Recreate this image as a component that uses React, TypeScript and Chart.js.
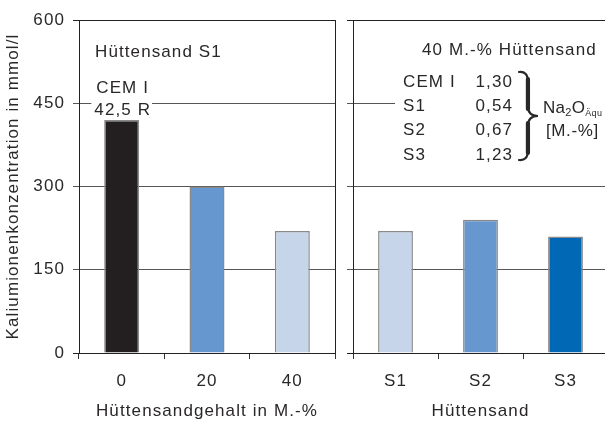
import React, { useEffect, useRef } from "react";
import { Chart, registerables } from "chart.js";

Chart.register(...registerables);

// Potassium ion concentration (mmol/l) of the pore solution
const yTicks = [0, 150, 300, 450, 600];

const contentCategories = ["0", "20", "40"];
const contentValues = [420, 300, 220];
const contentColors = ["#231f20", "#6797cf", "#c6d5ea"];

const slagCategories = ["S1", "S2", "S3"];
const slagValues = [220, 240, 210];
const slagColors = ["#c6d5ea", "#6797cf", "#0068b4"];

// Na2O equivalent of the binders in M.-%
const binderNames = ["CEM I", "S1", "S2", "S3"];
const binderAlkali = ["1,30", "0,54", "0,67", "1,23"];

const FAMILY = '"Liberation Sans", Arial, Helvetica, sans-serif';
const TEXT = "#2a2728";
const font = { family: FAMILY, size: 17, weight: "normal" as const, lineHeight: 1.2 };
const titleFont = { family: FAMILY, size: 17, weight: "normal" as const, lineHeight: 1.1 };
const FONT_CSS = `17px ${FAMILY}`;
const SPACING = "1.1px";

const spacingPlugin = {
  id: "letterSpacing",
  beforeUpdate(chart: any) {
    chart.ctx.letterSpacing = SPACING;
  },
  beforeDraw(chart: any) {
    chart.ctx.letterSpacing = SPACING;
  },
};

// closes the plot frame on the right-hand side
const framePlugin = {
  id: "frame",
  afterDraw(chart: any) {
    const { ctx, chartArea: a } = chart;
    const x = Math.round(a.right) + 0.5;
    ctx.save();
    ctx.strokeStyle = "#222";
    ctx.lineWidth = 1;
    ctx.beginPath();
    ctx.moveTo(x, a.top);
    ctx.lineTo(x, a.bottom);
    ctx.stroke();
    ctx.restore();
  },
};

const leftNotes = {
  id: "leftNotes",
  afterDatasetsDraw(chart: any) {
    const { ctx, chartArea: a, scales } = chart;
    const cx = scales.x.getPixelForValue(0);
    ctx.save();
    ctx.font = FONT_CSS;
    ctx.textBaseline = "middle";
    ctx.fillStyle = TEXT;
    ctx.textAlign = "left";
    ctx.fillText("Hüttensand S1", a.left + 16, a.top + 32);
    ctx.textAlign = "center";
    ctx.fillText("CEM I", cx + 1, a.top + 68);
    const w = ctx.measureText("42,5 R").width;
    ctx.fillStyle = "#fff";
    ctx.fillRect(cx - w / 2 - 2, a.top + 81, w + 4, 17);
    ctx.fillStyle = TEXT;
    ctx.fillText("42,5 R", cx + 1, a.top + 90);
    ctx.restore();
  },
};

// curly brace opening to the left, tip pointing right
function drawBrace(ctx: CanvasRenderingContext2D, x: number, top: number, bottom: number, w: number) {
  const mid = (top + bottom) / 2;
  const xm = x + w * 0.47;
  const r = 10;
  ctx.beginPath();
  ctx.moveTo(x, top);
  ctx.quadraticCurveTo(xm, top - 1, xm, top + r);
  ctx.lineTo(xm, mid - r);
  ctx.quadraticCurveTo(xm, mid, x + w, mid);
  ctx.quadraticCurveTo(xm, mid, xm, mid + r);
  ctx.lineTo(xm, bottom - r);
  ctx.quadraticCurveTo(xm, bottom + 1, x, bottom);
  ctx.lineWidth = 2.2;
  ctx.stroke();
  ctx.beginPath();
  ctx.moveTo(xm, top + r - 3);
  ctx.lineTo(xm, mid - r + 3);
  ctx.moveTo(xm, mid + r - 3);
  ctx.lineTo(xm, bottom - r + 3);
  ctx.lineWidth = 4.2;
  ctx.stroke();
}

const rightNotes = {
  id: "rightNotes",
  afterDatasetsDraw(chart: any) {
    const { ctx, chartArea: a } = chart;
    ctx.save();
    // plain background behind the alkali table
    ctx.fillStyle = "#fff";
    ctx.fillRect(a.left + 42, a.top + 50, chart.width, 96);
    ctx.font = FONT_CSS;
    ctx.fillStyle = TEXT;
    ctx.textBaseline = "middle";
    ctx.textAlign = "left";
    ctx.fillText("40 M.-% Hüttensand", a.left + 69, a.top + 30);
    binderNames.forEach((name, i) => {
      const y = a.top + 62 + i * 24.3;
      ctx.textAlign = "left";
      ctx.fillText(name, a.left + 50, y);
      ctx.textAlign = "right";
      ctx.fillText(binderAlkali[i], a.left + 160, y);
    });
    ctx.strokeStyle = TEXT;
    ctx.lineCap = "round";
    drawBrace(ctx, a.left + 166, a.top + 52, a.top + 140, 19);

    // Na2O with subscripts, set a little tighter to fit the edge
    (ctx as any).letterSpacing = "0.3px";
    ctx.textAlign = "left";
    ctx.textBaseline = "alphabetic";
    let x = a.left + 190;
    const base = a.top + 93;
    ctx.font = FONT_CSS;
    ctx.fillText("Na", x, base);
    x += ctx.measureText("Na").width;
    ctx.font = `11px ${FAMILY}`;
    ctx.fillText("2", x, base + 3);
    x += ctx.measureText("2").width;
    ctx.font = FONT_CSS;
    ctx.fillText("O", x, base);
    x += ctx.measureText("O").width;
    ctx.font = `9px ${FAMILY}`;
    ctx.fillText("Äqu", x, base + 3);
    (ctx as any).letterSpacing = "0.6px";
    ctx.font = FONT_CSS;
    ctx.textBaseline = "middle";
    ctx.fillText("[M.-%]", a.left + 193, a.top + 111);
    ctx.restore();
  },
};

function yGridColor(ctx: any) {
  const v = ctx.tick ? ctx.tick.value : 0;
  return v === 0 || v === 600 ? "#222" : "#555";
}

function makeConfig(
  labels: string[],
  values: number[],
  colors: string[],
  xTitle: string,
  showY: boolean,
  yWidth: number,
  rightPad: number,
  notes: any
): any {
  return {
    type: "bar",
    data: {
      labels,
      datasets: [
        {
          data: values,
          backgroundColor: colors,
          borderColor: "#8a8a8a",
          borderWidth: 1.5,
          borderSkipped: "bottom",
          barPercentage: 1,
          categoryPercentage: 0.41,
        },
      ],
    },
    options: {
      responsive: false,
      animation: false,
      devicePixelRatio: 1,
      layout: { padding: { top: 20, right: rightPad, left: 0, bottom: 0 } },
      plugins: { legend: { display: false }, tooltip: { enabled: false } },
      scales: {
        x: {
          grid: { drawOnChartArea: false, tickLength: 6, color: "#333", offset: true },
          border: { color: "#222", width: 1 },
          ticks: { font, color: TEXT, padding: 12 },
          title: { display: true, text: xTitle, font: titleFont, color: TEXT, padding: { top: 0, bottom: 0 } },
          afterFit(s: any) {
            s.height = 68;
          },
        },
        y: {
          min: 0,
          max: 600,
          afterBuildTicks(s: any) {
            s.ticks = yTicks.map((v) => ({ value: v }));
          },
          ticks: { display: showY, font, color: TEXT, padding: 8 },
          grid: { tickLength: 6, color: yGridColor, lineWidth: 1 },
          border: { color: "#222", width: 1 },
          title: {
            display: showY,
            text: "Kaliumionenkonzentration in mmol/l",
            font,
            color: TEXT,
            padding: { top: 3, bottom: 0 },
          },
          afterFit(s: any) {
            s.width = yWidth;
          },
        },
      },
    },
    plugins: [spacingPlugin, framePlugin, notes],
  };
}

export default function App() {
  const leftRef = useRef<HTMLCanvasElement>(null);
  const rightRef = useRef<HTMLCanvasElement>(null);

  useEffect(() => {
    const left = new Chart(
      leftRef.current as HTMLCanvasElement,
      makeConfig(contentCategories, contentValues, contentColors, "Hüttensandgehalt in M.-%", true, 79, 5, leftNotes)
    );
    const right = new Chart(
      rightRef.current as HTMLCanvasElement,
      makeConfig(slagCategories, slagValues, slagColors, "Hüttensand", false, 13, 7, rightNotes)
    );
    return () => {
      left.destroy();
      right.destroy();
    };
  }, []);

  return (
    <div
      style={{
        position: "fixed",
        left: 0,
        top: 0,
        width: 605,
        height: 421,
        overflow: "hidden",
        background: "#fff",
      }}
    >
      <canvas ref={leftRef} width={340} height={421} style={{ position: "absolute", left: 0, top: 0 }} />
      <canvas ref={rightRef} width={275} height={421} style={{ position: "absolute", left: 340, top: 0 }} />
    </div>
  );
}
